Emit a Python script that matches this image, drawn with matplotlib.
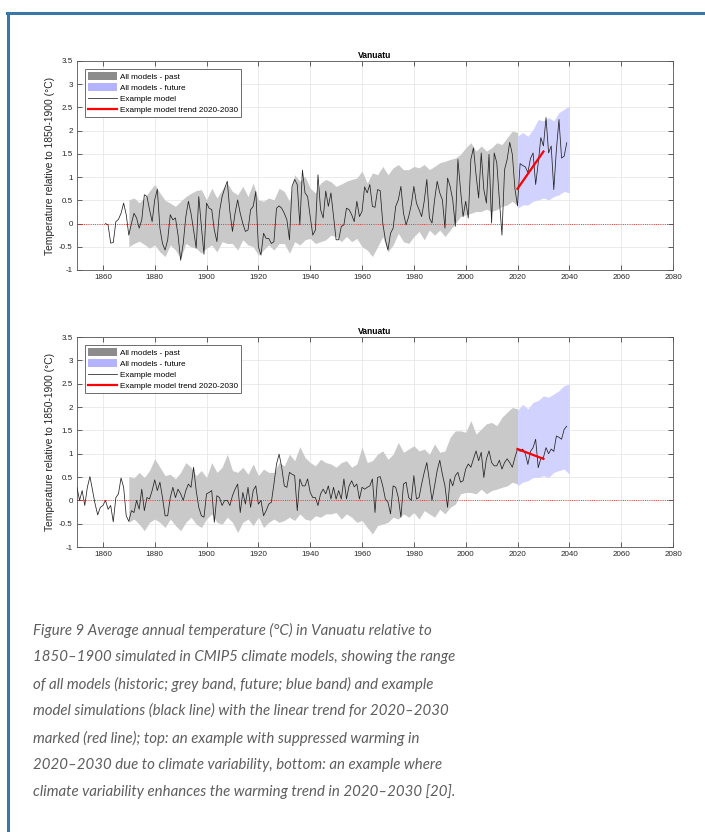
import numpy as np
import matplotlib
matplotlib.use('Agg')
import matplotlib.pyplot as plt
from matplotlib.patches import Patch
from matplotlib.lines import Line2D
from matplotlib.ticker import FuncFormatter

plt.rcParams['font.family'] = ['Liberation Sans', 'DejaVu Sans']

# example model, top panel (suppressed warming), 1861-2039
top_start = 1861
top_model = [
    0.00, -0.03, -0.42, -0.41, 0.04, 0.09, 0.22, 0.44, 0.19, -0.25,
    0.00, 0.22, 0.12, -0.10, 0.08, 0.62, 0.58, 0.30, 0.04, 0.51,
    0.74, -0.10, -0.43, -0.57, -0.35, 0.19, 0.08, 0.12, -0.25, -0.79,
    -0.43, 0.15, 0.48, 0.22, -0.14, -0.53, 0.58, -0.06, -0.66, 0.44,
    0.33, 0.30, -0.14, -0.39, 0.26, 0.58, 0.76, 0.91, 0.26, -0.17,
    0.22, 0.51, 0.22, 0.00, -0.17, -0.14, 0.30, 0.37, 0.69, -0.50,
    -0.68, -0.21, -0.32, -0.32, -0.43, -0.39, 0.33, 0.38, 0.33, 0.22,
    0.08, -0.35, 0.80, 0.95, 0.84, -0.03, 1.15, 0.66, 0.58, 0.15,
    -0.25, -0.14, 1.05, 0.30, 0.12, 0.70, 0.37, 0.66, 0.15, -0.35,
    -0.35, -0.06, -0.03, 0.33, 0.30, 0.19, 0.04, 0.48, 0.15, 0.26,
    0.79, 0.66, 0.84, 0.37, 0.35, 0.73, 0.71, 0.01, -0.35, -0.57,
    -0.21, -0.10, 0.37, 0.51, 0.80, 0.22, -0.03, 0.15, 0.40, 0.80,
    0.44, 0.30, 0.15, 0.48, 0.95, 0.12, 0.01, 0.51, 0.91, 0.66,
    0.51, -0.10, 0.98, 0.80, 0.51, -0.06, 1.38, 0.73, 0.15, 0.48,
    0.12, 1.38, 1.63, 1.05, 0.55, 1.52, 0.73, 0.44, 1.49, 0.01,
    1.52, 1.31, 0.51, -0.25, 1.16, 1.38, 1.75, 1.49, 0.75, 0.38,
    1.29, 1.25, 1.22, 1.10, 1.40, 1.52, 0.84, 1.31, 1.85, 1.67,
    2.28, 1.52, 1.67, 0.73, 1.59, 2.24, 1.41, 1.45, 1.74,
]

# example model, bottom panel (enhanced warming), 1850-2039
bot_start = 1850
bot_model = [
    0.28, 0.00, 0.21, -0.11, 0.28, 0.51, 0.21, -0.08, -0.31, -0.15,
    -0.11, 0.00, -0.19, -0.11, -0.46, 0.06, 0.14, 0.48, 0.28, -0.33,
    -0.45, -0.22, -0.26, 0.00, -0.19, 0.24, -0.22, 0.06, 0.03, 0.21,
    0.44, 0.21, 0.39, 0.06, -0.33, -0.33, 0.06, 0.28, 0.06, 0.24,
    0.14, 0.00, 0.21, 0.35, 0.28, 0.71, 0.21, -0.15, -0.33, -0.36,
    0.14, 0.17, 0.21, -0.47, 0.10, 0.06, -0.11, 0.00, 0.00, -0.11,
    0.10, 0.24, 0.35, -0.26, 0.17, -0.08, 0.28, -0.15, 0.21, 0.31,
    -0.08, 0.00, -0.33, -0.22, -0.08, -0.04, 0.35, 0.78, 0.99, 0.71,
    0.31, 0.28, 0.60, 0.56, 0.53, -0.22, 0.46, 0.31, 0.31, 0.46,
    0.17, 0.06, 0.06, -0.11, 0.14, 0.24, 0.14, 0.31, 0.03, 0.28,
    0.03, 0.21, 0.03, 0.46, 0.03, 0.31, 0.42, 0.29, 0.35, 0.03,
    0.28, 0.24, 0.28, 0.31, 0.46, -0.26, 0.49, 0.51, 0.31, 0.03,
    -0.04, -0.29, 0.31, 0.28, 0.06, -0.36, 0.35, 0.39, 0.06, 0.00,
    0.53, 0.03, 0.06, 0.35, 0.60, 0.81, 0.42, 0.00, 0.31, 0.64,
    0.86, 0.56, 0.31, -0.15, 0.46, 0.31, 0.53, 0.60, 0.39, 0.42,
    0.67, 0.78, 0.71, 0.89, 1.06, 0.85, 1.03, 0.49, 0.89, 1.06,
    0.81, 0.74, 0.74, 0.86, 0.67, 0.81, 0.89, 0.81, 0.71, 0.92,
    1.10, 1.05, 1.10, 1.00, 0.77, 1.05, 1.13, 1.31, 0.70, 0.90,
    0.92, 1.13, 1.00, 1.10, 1.05, 1.38, 1.35, 1.31, 1.52, 1.59,
]

# model range, every second year
past_years = list(range(1870, 2021, 2))
fut_years = list(range(2020, 2041, 2))

top_past_hi = [
    0.51, 0.55, 0.45, 0.55, 0.70, 0.84, 0.66, 0.50, 0.44, 0.37,
    0.48, 0.58, 0.65, 0.71, 0.73, 0.51, 0.76, 0.55, 0.73, 0.87,
    0.69, 0.62, 0.80, 0.58, 0.87, 0.51, 0.48, 0.55, 0.51, 0.76,
    0.69, 0.48, 1.05, 0.91, 1.02, 0.76, 0.66, 0.87, 0.95, 0.90,
    0.80, 0.85, 0.91, 0.95, 0.98, 1.13, 0.87, 1.09, 1.05, 1.23,
    1.05, 1.20, 1.27, 1.16, 1.16, 1.23, 1.20, 1.27, 1.16, 1.23,
    1.31, 1.34, 1.38, 1.41, 1.49, 1.63, 1.74, 1.56, 1.67, 1.56,
    1.63, 1.74, 1.70, 1.85, 1.99, 1.96,
]
top_past_lo = [
    -0.50, -0.43, -0.38, -0.45, -0.53, -0.46, -0.61, -0.71, -0.46, -0.57,
    -0.75, -0.43, -0.50, -0.53, -0.64, -0.53, -0.46, -0.61, -0.39, -0.43,
    -0.43, -0.57, -0.35, -0.46, -0.50, -0.68, -0.57, -0.46, -0.57, -0.43,
    -0.43, -0.64, -0.39, -0.46, -0.35, -0.32, -0.43, -0.39, -0.35, -0.25,
    -0.28, -0.39, -0.28, -0.39, -0.32, -0.50, -0.57, -0.71, -0.50, -0.28,
    -0.61, -0.46, -0.21, -0.39, -0.43, -0.28, -0.17, -0.35, -0.14, -0.25,
    -0.14, -0.28, -0.14, 0.00, 0.15, 0.19, 0.22, 0.26, 0.26, 0.31,
    0.26, 0.30, 0.37, 0.40, 0.48, 0.38,
]
top_fut_hi = [1.88, 1.96, 1.88, 2.03, 2.24, 2.21, 2.28, 2.21, 2.39, 2.46, 2.53]
top_fut_lo = [0.33, 0.40, 0.40, 0.48, 0.51, 0.55, 0.51, 0.58, 0.62, 0.69, 0.66]

bot_past_hi = [
    0.51, 0.48, 0.60, 0.49, 0.64, 0.89, 0.71, 0.53, 0.56, 0.46,
    0.60, 0.81, 0.71, 0.53, 0.64, 0.49, 0.81, 0.60, 0.71, 0.99,
    0.64, 0.60, 0.71, 0.56, 0.78, 0.53, 0.67, 0.60, 0.60, 0.81,
    0.74, 0.99, 0.85, 1.15, 0.92, 0.81, 0.74, 0.88, 0.81, 0.78,
    0.71, 0.81, 0.85, 0.71, 0.78, 1.14, 0.81, 0.85, 0.99, 1.06,
    0.88, 0.99, 1.24, 1.03, 1.10, 1.17, 1.06, 1.10, 0.99, 1.21,
    1.03, 1.06, 1.35, 1.49, 1.49, 1.46, 1.71, 1.42, 1.53, 1.64,
    1.67, 1.60, 1.78, 1.89, 1.99, 1.96,
]
bot_past_lo = [
    -0.47, -0.40, -0.51, -0.65, -0.47, -0.40, -0.47, -0.58, -0.40, -0.54,
    -0.65, -0.47, -0.36, -0.51, -0.58, -0.40, -0.29, -0.47, -0.51, -0.36,
    -0.47, -0.69, -0.47, -0.40, -0.54, -0.36, -0.58, -0.47, -0.40, -0.47,
    -0.43, -0.36, -0.43, -0.29, -0.40, -0.43, -0.33, -0.36, -0.29, -0.29,
    -0.26, -0.40, -0.29, -0.36, -0.47, -0.43, -0.58, -0.72, -0.54, -0.51,
    -0.47, -0.36, -0.40, -0.29, -0.36, -0.26, -0.40, -0.22, -0.29, -0.36,
    -0.19, -0.29, -0.15, -0.08, 0.14, 0.17, 0.17, 0.14, 0.24, 0.14,
    0.21, 0.24, 0.28, 0.31, 0.39, 0.35,
]
bot_fut_hi = [1.92, 2.06, 1.96, 2.10, 2.14, 2.24, 2.21, 2.28, 2.35, 2.46, 2.49]
bot_fut_lo = [0.31, 0.39, 0.42, 0.49, 0.49, 0.53, 0.49, 0.60, 0.64, 0.67, 0.56]

# linear trend 2020-2030 of the example model
trend_years = [2020, 2030]
top_trend = [0.75, 1.55]
bot_trend = [1.10, 0.89]

caption = [
    "Figure 9 Average annual temperature (\u00b0C) in Vanuatu relative to",
    "1850\u20131900 simulated in CMIP5 climate models, showing the range",
    "of all models (historic; grey band, future; blue band) and example",
    "model simulations (black line) with the linear trend for 2020\u20132030",
    "marked (red line); top: an example with suppressed warming in",
    "2020\u20132030 due to climate variability, bottom: an example where",
    "climate variability enhances the warming trend in 2020\u20132030 [20].",
]

grey_band = '#c9c9c9'
blue_band = '#d2d2ff'


def draw_panel(ax, start, model, p_hi, p_lo, f_hi, f_lo, trend):
    ax.fill_between(past_years, p_lo, p_hi, color=grey_band, lw=0, zorder=1)
    ax.fill_between(fut_years, f_lo, f_hi, color=blue_band, lw=0, zorder=1)
    ax.axhline(0, color='red', ls=':', lw=0.6, zorder=2)
    yrs = np.arange(start, start + len(model))
    ax.plot(yrs, model, color='#222222', lw=0.55, zorder=3)
    ax.plot(trend_years, trend, color='red', lw=1.6, zorder=4)

    ax.set_xlim(1850, 2080)
    ax.set_ylim(-1, 3.5)
    ax.set_xticks(range(1860, 2081, 20))
    ax.set_yticks(np.arange(-1, 3.51, 0.5))
    ax.yaxis.set_major_formatter(FuncFormatter(lambda v, p: '%g' % v))
    ax.grid(True, color='#e3e3e3', lw=0.5)
    ax.set_axisbelow(True)
    ax.tick_params(direction='in', length=3.5, width=0.5, top=True, right=True,
                   labelsize=5.8, colors='#262626', pad=3)
    for s in ax.spines.values():
        s.set_color('#555555')
        s.set_linewidth(0.6)
    ax.set_title('Vanuatu', fontsize=6.2, fontweight='bold', pad=2)
    ax.set_ylabel('Temperature relative to 1850-1900 (\u00b0C)', fontsize=7.4,
                  labelpad=3, color='#262626')

    handles = [Patch(facecolor='#8c8c8c', edgecolor='none'),
               Patch(facecolor='#b3b3ff', edgecolor='none'),
               Line2D([], [], color='#333333', lw=0.6),
               Line2D([], [], color='red', lw=1.6)]
    labels = ['All models - past', 'All models - future', 'Example model',
              'Example model trend 2020-2030']
    leg = ax.legend(handles, labels, loc='upper left', bbox_to_anchor=(0.013, 0.962),
                    fontsize=5.9, frameon=True, fancybox=False, framealpha=1,
                    edgecolor='#555555', handlelength=3.6, handleheight=1.1,
                    handletextpad=0.35, labelspacing=0.3, borderpad=0.35,
                    borderaxespad=0)
    leg.get_frame().set_linewidth(0.6)


fig = plt.figure(figsize=(7.05, 8.32), dpi=100)
ax1 = fig.add_axes([0.1092, 0.6755, 0.8454, 0.2512])
ax2 = fig.add_axes([0.1092, 0.3425, 0.8454, 0.2524])

draw_panel(ax1, top_start, top_model, top_past_hi, top_past_lo,
           top_fut_hi, top_fut_lo, top_trend)
draw_panel(ax2, bot_start, bot_model, bot_past_hi, bot_past_lo,
           bot_fut_hi, bot_fut_lo, bot_trend)

# frame around the figure block
border = '#3b77a6'
fig.add_artist(Line2D([7 / 705, 1], [1 - 12.5 / 832] * 2, color=border, lw=2.2))
fig.add_artist(Line2D([7.5 / 705] * 2, [0, 1 - 12.5 / 832], color=border, lw=2.2))

for i, line in enumerate(caption):
    fig.text(33 / 705, 1 - (630 + 27 * i) / 832, line, family=['Lato', 'DejaVu Sans'],
             style='italic', fontsize=10.8, color='#5e5e5e',
             va='center', ha='left')

fig.savefig('out.png', dpi=100)
